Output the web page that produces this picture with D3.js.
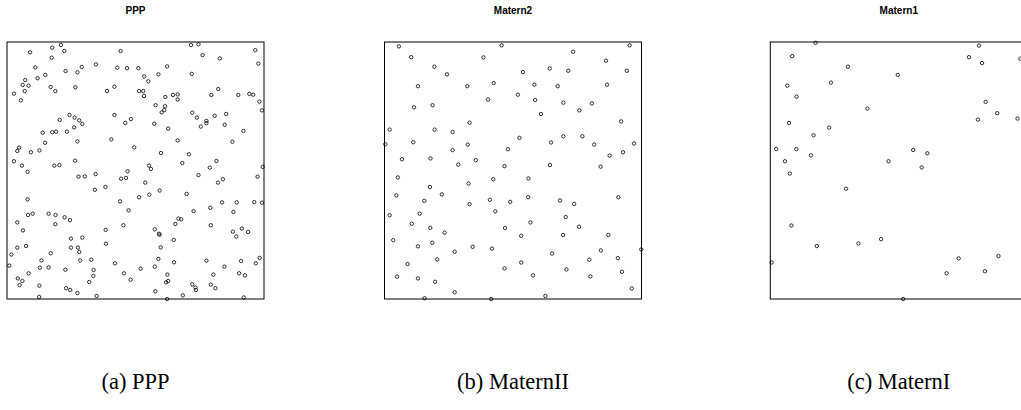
<!DOCTYPE html>
<html>
<head>
<meta charset="utf-8">
<script src="https://cdn.jsdelivr.net/npm/d3@7"></script>
<style>
  body { margin: 0; background: #fff; }
  svg { display: block; }
</style>
</head>
<body>
<div id="chart"></div>
<script>
// point patterns on the unit square, [x, y]
const pppPoints = [
  [.090,.960],[.176,.978],[.210,.988],[.223,.965],[.174,.939],[.442,.965],[.110,.901],[.346,.913],
  [.291,.903],[.274,.882],[.228,.887],[.149,.872],[.119,.859],[.071,.852],[.061,.833],[.084,.830],
  [.069,.809],[.027,.799],[.054,.773],[.170,.825],[.188,.809],[.266,.824],[.389,.809],[.418,.826],
  [.429,.900],[.467,.898],[.243,.716],[.263,.706],[.281,.695],[.293,.681],[.205,.697],[.418,.716],
  [.460,.685],[.482,.700],[.139,.647],[.176,.649],[.191,.651],[.233,.651],[.261,.668],[.274,.613],
  [.406,.621],[.148,.608],[.047,.589],[.040,.576],[.093,.571],[.126,.578],[.495,.590],[.027,.536],
  [.058,.519],[.184,.519],[.204,.521],[.265,.538],
  [.716,.988],[.745,.991],[.761,.949],[.828,.936],[.966,.968],[.978,.916],[.511,.898],[.623,.905],
  [.589,.874],[.719,.876],[.534,.866],[.550,.847],[.514,.809],[.530,.809],[.533,.790],[.616,.786],
  [.646,.794],[.664,.796],[.664,.776],[.795,.794],[.822,.817],[.900,.794],[.943,.798],[.958,.795],
  [.982,.768],[.992,.734],[.578,.754],[.615,.750],[.612,.735],[.602,.726],[.721,.725],[.739,.706],
  [.808,.713],[.853,.720],[.776,.693],[.776,.684],[.754,.671],[.847,.678],[.573,.682],[.627,.663],
  [.920,.654],[.664,.617],[.877,.612],[.599,.568],[.708,.563],[.553,.519],[.560,.506],[.682,.529],
  [.815,.537],[.789,.511],[.995,.514],
  [.080,.495],[.278,.476],[.303,.477],[.345,.486],[.444,.468],[.463,.471],[.469,.497],[.342,.425],
  [.383,.436],[.080,.388],[.440,.380],[.473,.345],[.082,.327],[.100,.332],[.162,.332],[.189,.327],
  [.224,.318],[.245,.307],[.188,.291],[.040,.298],[.062,.267],[.384,.269],[.453,.287],[.249,.235],
  [.293,.239],[.040,.200],[.074,.206],[.017,.173],[.170,.178],[.249,.200],[.276,.200],[.281,.183],
  [.385,.215],[.134,.150],[.285,.150],[.328,.153],[.009,.130],[.128,.122],[.162,.123],[.227,.114],
  [.337,.113],[.420,.139],[.042,.080],[.060,.070],[.049,.054],[.084,.100],[.336,.090],[.320,.066],
  [.455,.100],[.481,.075],[.126,.052],[.230,.042],[.246,.035],[.274,.023],[.125,.008],[.349,.012],
  [.745,.482],[.538,.453],[.821,.453],[.840,.466],[.975,.476],[.514,.396],[.554,.406],[.594,.422],
  [.699,.409],[.837,.376],[.894,.376],[.962,.377],[.992,.375],[.726,.342],[.791,.355],[.881,.339],
  [.667,.313],[.678,.310],[.655,.292],[.793,.287],[.575,.271],[.591,.254],[.594,.250],[.879,.262],
  [.892,.243],[.914,.274],[.938,.261],[.649,.230],[.598,.201],[.589,.156],[.520,.118],[.575,.126],
  [.650,.143],[.776,.149],[.846,.126],[.911,.148],[.968,.139],[.983,.160],[.624,.095],[.627,.070],
  [.619,.065],[.803,.095],[.903,.100],[.926,.092],[.721,.057],[.733,.045],[.735,.035],[.793,.056],
  [.811,.042],[.577,.030],[.684,.014],[.623,.000],[.921,.006]
];

const matern2Points = [
  [.056,.983],[.456,.987],[.104,.941],[.385,.940],[.194,.904],[.243,.874],[.130,.828],[.322,.828],
  [.425,.840],[.403,.776],[.115,.746],[.187,.754],[.331,.686],[.020,.659],[.195,.659],[.265,.650],
  [.003,.602],[.112,.610],[.324,.601],[.265,.579],[.480,.583],[.068,.544],[.179,.547],[.287,.523],
  [.355,.540],[.467,.517],[.052,.473],[.177,.436],[.327,.449],[.423,.466],[.046,.403],[.155,.382],
  [.223,.407],[.331,.369],[.410,.386],[.489,.378],[.020,.326],[.137,.332],[.431,.341],[.106,.293],
  [.178,.277],[.234,.258],[.469,.276],[.034,.229],[.130,.205],[.186,.219],[.273,.184],[.343,.203],
  [.418,.196],[.205,.154],[.090,.136],[.467,.119],[.049,.087],[.130,.080],[.197,.067],[.273,.026],
  [.156,.003],[.415,.000],
  [.954,.987],[.734,.962],[.862,.927],[.539,.883],[.643,.897],[.715,.888],[.943,.888],[.583,.834],
  [.674,.828],[.866,.834],[.519,.795],[.586,.774],[.696,.764],[.807,.761],[.758,.734],[.609,.720],
  [.921,.691],[.525,.627],[.648,.609],[.696,.633],[.770,.633],[.816,.601],[.971,.605],[.928,.571],
  [.876,.558],[.644,.521],[.841,.515],[.560,.469],[.559,.396],[.683,.383],[.738,.370],[.910,.396],
  [.705,.319],[.568,.298],[.757,.281],[.532,.246],[.695,.249],[.871,.249],[.999,.193],[.842,.189],
  [.652,.177],[.797,.153],[.908,.159],[.532,.142],[.708,.115],[.924,.106],[.578,.092],[.801,.088],
  [.962,.041],[.626,.012]
];

const matern1Points = [
  [.176,.997],[.085,.945],[.302,.904],[.496,.872],[.236,.842],[.066,.830],[.102,.787],[.378,.741],
  [.073,.685],[.229,.667],[.168,.637],[.023,.584],[.101,.583],[.057,.536],[.158,.559],[.076,.488],
  [.460,.536],[.556,.580],[.611,.567],[.589,.512],[.295,.429],[.082,.286],[.181,.206],[.343,.216],
  [.431,.233],[.005,.142],[.517,.000],[.686,.100],[.733,.158],[.835,.108],[.888,.167],[.812,.986],
  [.773,.941],[.824,.918],[.973,.935],[.838,.767],[.883,.723],[.808,.698],[.962,.702]
];

const titles = ["PPP", "Matern2", "Matern1"];
const captions = ["(a) PPP", "(b) MaternII", "(c) MaternI"];

const width = 1021, height = 410;
const side = 257;
const boxTop = 42;
const lefts = [7, 384.5, 770.3];

const svg = d3
  .select("#chart")
  .append("svg")
  .attr("width", width)
  .attr("height", height);

const panels = [pppPoints, matern2Points, matern1Points];

panels.forEach((pts, i) => {
  const x = d3.scaleLinear().domain([0, 1]).range([lefts[i], lefts[i] + side]);
  const y = d3.scaleLinear().domain([0, 1]).range([boxTop + side, boxTop]);
  const g = svg.append("g");
  const cx = (x(0) + x(1)) / 2;

  // window boundary
  g.append("rect")
    .attr("x", x(0))
    .attr("y", y(1))
    .attr("width", x(1) - x(0))
    .attr("height", y(0) - y(1))
    .attr("fill", "none")
    .attr("stroke", "#000")
    .attr("stroke-width", 1);

  g.selectAll("circle")
    .data(pts)
    .enter()
    .append("circle")
    .attr("cx", (d) => x(d[0]))
    .attr("cy", (d) => y(d[1]))
    .attr("r", 1.7)
    .attr("fill", "none")
    .attr("stroke", "#000")
    .attr("stroke-width", 0.8);

  svg.append("text")
    .attr("x", cx)
    .attr("y", 13.5)
    .attr("text-anchor", "middle")
    .style("font-family", "'Liberation Sans', Arial, sans-serif")
    .style("font-weight", "bold")
    .style("font-size", "10px")
    .text(titles[i]);

  svg.append("text")
    .attr("x", cx)
    .attr("y", 389)
    .attr("text-anchor", "middle")
    .style("font-family", "'Liberation Serif', 'DejaVu Serif', serif")
    .style("font-size", "22.5px")
    .text(captions[i]);
});
</script>
</body>
</html>
